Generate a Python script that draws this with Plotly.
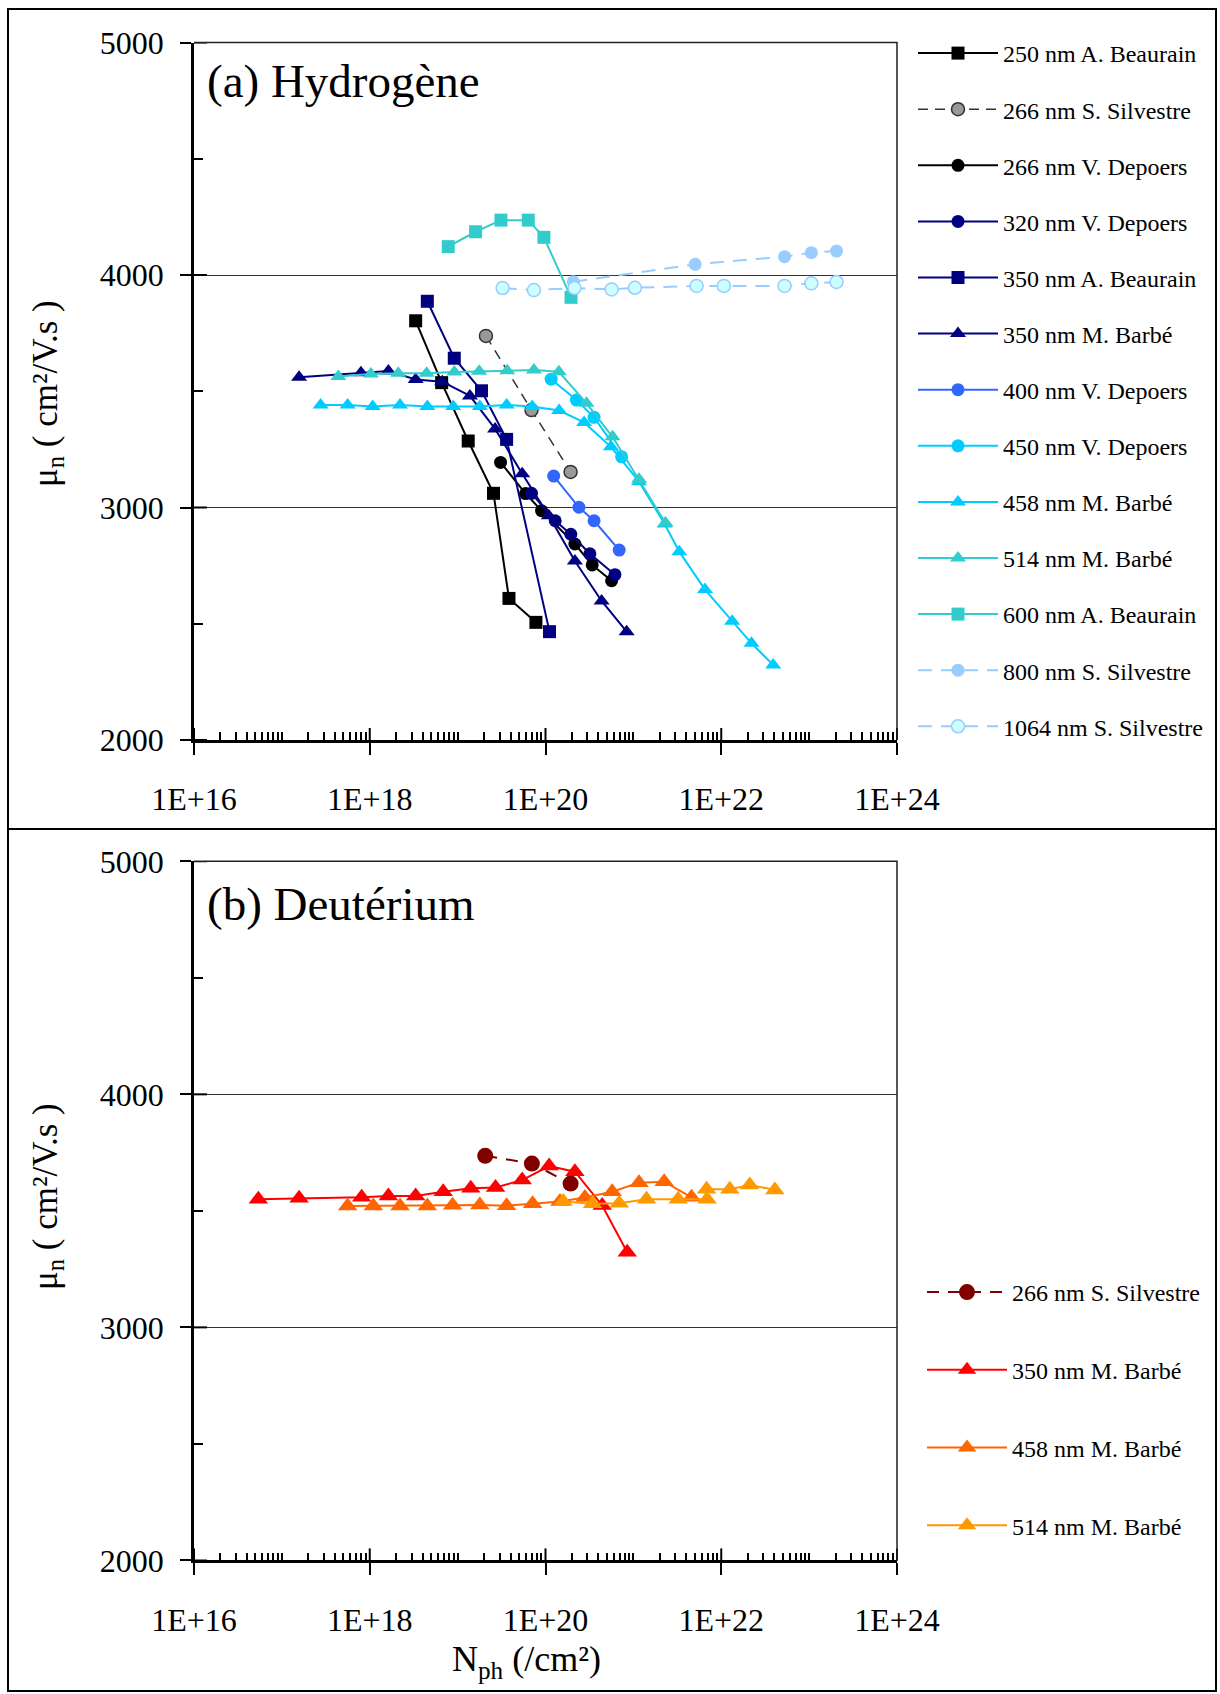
import plotly.graph_objects as go

# ---------------- data: photon fluence N_ph (/cm2) vs electron mobility (cm2/V.s) -------------
# (a) Hydrogène
h_250_beaurain_x = [3.33e18, 6.58e18, 1.32e19, 2.56e19, 3.84e19, 7.78e19]
h_250_beaurain_y = [3803, 3537, 3286, 3061, 2609, 2506]

h_266_silvestre_x = [2.10e19, 6.93e19, 1.93e20]
h_266_silvestre_y = [3738, 3419, 3153]

h_266_depoers_x = [3.08e19, 5.93e19, 9.02e19, 2.16e20, 3.40e20, 5.65e20]
h_266_depoers_y = [3194, 3060, 2986, 2843, 2753, 2685]

h_320_depoers_x = [6.93e19, 1.29e20, 1.94e20, 3.20e20, 6.17e20]
h_320_depoers_y = [3061, 2943, 2885, 2801, 2711]

h_350_beaurain_x = [4.52e18, 9.16e18, 1.87e19, 3.61e19, 1.11e20]
h_350_beaurain_y = [3887, 3642, 3502, 3293, 2466]

h_350_barbe_x = [1.57e17, 7.94e17, 1.63e18, 3.33e18, 6.68e18, 1.38e19,
                 2.67e19, 5.43e19, 1.09e20, 2.16e20, 4.35e20, 8.38e20]
h_350_barbe_y = [3560, 3580, 3587, 3551, 3541, 3480, 3338, 3145, 2965, 2770, 2598, 2466]

h_400_depoers_x = [1.24e20, 2.40e20, 3.57e20, 6.90e20]
h_400_depoers_y = [3135, 3001, 2943, 2817]

h_450_depoers_x = [1.16e20, 2.25e20, 3.57e20, 7.35e20]
h_450_depoers_y = [3552, 3462, 3388, 3218]

h_458_barbe_x = [2.76e17, 5.60e17, 1.08e18, 2.21e18, 4.52e18, 8.91e18, 1.79e19, 3.61e19,
                 7.06e19, 1.43e20, 2.75e20, 5.55e20, 1.16e21, 2.27e21, 3.33e21, 6.53e21,
                 1.33e22, 2.21e22, 3.90e22]
h_458_barbe_y = [3441, 3441, 3434, 3441, 3434, 3434, 3434, 3441, 3434, 3417, 3366, 3261,
                 3111, 2929, 2810, 2647, 2511, 2416, 2323]

h_514_barbe_x = [4.39e17, 1.03e18, 2.11e18, 4.44e18, 9.16e18, 1.76e19, 3.67e19, 7.38e19,
                 1.42e20, 2.93e20, 5.79e20, 1.16e21, 2.32e21]
h_514_barbe_y = [3563, 3574, 3577, 3577, 3583, 3586, 3588, 3591, 3584, 3448, 3304, 3121, 2933]

h_600_beaurain_x = [7.82e18, 1.60e19, 3.11e19, 6.37e19, 9.59e19, 1.95e20]
h_600_beaurain_y = [4122, 4186, 4236, 4236, 4162, 3904]

h_800_silvestre_x = [2.07e20, 5.05e21, 5.25e22, 1.06e23, 2.05e23]
h_800_silvestre_y = [3971, 4046, 4079, 4096, 4103]

h_1064_silvestre_x = [3.25e19, 7.38e19, 2.14e20, 5.65e20, 1.04e21, 5.24e21, 1.07e22,
                      5.25e22, 1.06e23, 2.05e23]
h_1064_silvestre_y = [3944, 3935, 3944, 3938, 3945, 3953, 3953, 3953, 3964, 3970]

# (b) Deutérium
d_266_silvestre_x = [2.06e19, 7.00e19, 1.93e20]
d_266_silvestre_y = [3736, 3703, 3617]

d_350_barbe_x = [5.40e16, 1.57e17, 8.09e17, 1.63e18, 3.33e18, 6.85e18, 1.41e19,
                 2.70e19, 5.43e19, 1.10e20, 2.16e20, 4.42e20, 8.51e20]
d_350_barbe_y = [3550, 3554, 3558, 3564, 3564, 3582, 3597, 3600, 3632, 3692, 3668, 3523, 3322]

d_458_barbe_x = [5.60e17, 1.10e18, 2.21e18, 4.52e18, 8.77e18, 1.79e19, 3.61e19,
                 7.13e19, 1.46e20, 2.81e20, 5.74e20, 1.16e21, 2.24e21, 4.59e21]
d_458_barbe_y = [3521, 3521, 3521, 3521, 3524, 3525, 3522, 3530, 3540, 3557, 3582,
                 3621, 3625, 3558]

d_514_barbe_x = [1.59e20, 3.43e20, 6.90e20, 1.41e21, 3.23e21, 6.90e21, 6.81e21,
                 1.25e22, 2.11e22, 4.07e22]
d_514_barbe_y = [3540, 3530, 3533, 3550, 3550, 3550, 3593, 3593, 3611, 3590]

# axis ticks
x_major = [1e16, 1e18, 1e20, 1e22, 1e24]
x_major_text = ["1E+16", "1E+18", "1E+20", "1E+22", "1E+24"]
y_major = [2000, 3000, 4000, 5000]
y_major_text = ["2000", "3000", "4000", "5000"]
y_minor = [2500, 3500, 4500]
x_minor = [m * 10.0 ** e for e in range(16, 24) for m in range(1, 10)
           if not (m == 1 and e % 2 == 0)]

# ---------------- page geometry (pixels) ----------------
W, H = 1220, 1694
X_LEFT, X_RIGHT = 194, 897
TOP_PLOT = (42.5, 740.0)     # pixel rows of 5000 and 2000
BOT_PLOT = (861.3, 1560.4)
FONT = "Liberation Serif"
TICK_SIZE = 32


def py(v):
    return 1 - v / H


fig = go.Figure()


def add_series(x, y, name, color, symbol, size, axis, legend, dash="solid",
               fill=None, mline=None, lw=2.0):
    fig.add_trace(go.Scatter(
        x=x, y=y, name=name, mode="lines+markers",
        xaxis=axis[0], yaxis=axis[1], legend=legend, legendgroup=name,
        line=dict(color=color, width=lw, dash=dash),
        marker=dict(symbol=symbol, size=size, color=fill or color,
                    line=dict(color=mline or (fill or color), width=1.5 if mline else 0)),
        cliponaxis=False,
    ))


TOP = ("x", "y")
BOT = ("x2", "y2")
navy = "#000080"
add_series(h_250_beaurain_x, h_250_beaurain_y, "250 nm A. Beaurain", "black", "square", 13, TOP, "legend")
add_series(h_266_silvestre_x, h_266_silvestre_y, "266 nm S. Silvestre", "#333333", "circle", 13, TOP,
           "legend", dash="10px,7px", fill="#999999", mline="#333333", lw=1.5)
add_series(h_266_depoers_x, h_266_depoers_y, "266 nm V. Depoers", "black", "circle", 13, TOP, "legend")
add_series(h_320_depoers_x, h_320_depoers_y, "320 nm V. Depoers", navy, "circle", 13, TOP, "legend")
add_series(h_350_beaurain_x, h_350_beaurain_y, "350 nm A. Beaurain", navy, "square", 13, TOP, "legend")
add_series(h_350_barbe_x, h_350_barbe_y, "350 nm M. Barbé", navy, "triangle-up", 14, TOP, "legend")
add_series(h_400_depoers_x, h_400_depoers_y, "400 nm V. Depoers", "#3366FF", "circle", 13, TOP, "legend")
add_series(h_450_depoers_x, h_450_depoers_y, "450 nm V. Depoers", "#00CCFF", "circle", 13, TOP, "legend")
add_series(h_458_barbe_x, h_458_barbe_y, "458 nm M. Barbé", "#00CCFF", "triangle-up", 14, TOP, "legend")
add_series(h_514_barbe_x, h_514_barbe_y, "514 nm M. Barbé", "#33CCCC", "triangle-up", 14, TOP, "legend")
add_series(h_600_beaurain_x, h_600_beaurain_y, "600 nm A. Beaurain", "#33CCCC", "square", 13, TOP, "legend")
add_series(h_800_silvestre_x, h_800_silvestre_y, "800 nm S. Silvestre", "#99CCFF", "circle", 13, TOP,
           "legend", dash="14px,9px")
add_series(h_1064_silvestre_x, h_1064_silvestre_y, "1064 nm S. Silvestre", "#99CCFF", "circle", 13, TOP,
           "legend", dash="14px,9px", fill="#CCFFFF", mline="#99CCFF")

add_series(d_266_silvestre_x, d_266_silvestre_y, "266 nm S. Silvestre", "#800000", "circle", 16, BOT,
           "legend2", dash="12px,9px")
add_series(d_350_barbe_x, d_350_barbe_y, "350 nm M. Barbé", "#FF0000", "triangle-up", 17, BOT, "legend2")
add_series(d_458_barbe_x, d_458_barbe_y, "458 nm M. Barbé", "#FF6600", "triangle-up", 17, BOT, "legend2")
add_series(d_514_barbe_x, d_514_barbe_y, "514 nm M. Barbé", "#FF9900", "triangle-up", 17, BOT, "legend2")

# ---------------- axes ----------------
x_dom = [X_LEFT / W, X_RIGHT / W]


def xaxis_cfg(anchor):
    return dict(
        type="log", range=[16, 24], domain=x_dom, anchor=anchor, automargin=False,
        tickmode="array", tickvals=x_major, ticktext=x_major_text,
        ticks="outside", ticklen=12, tickwidth=2, tickcolor="black",
        showline=True, linewidth=2.5, linecolor="black", mirror=False,
        showgrid=False, zeroline=False, ticklabelstandoff=17,
        tickfont=dict(family=FONT, size=TICK_SIZE, color="black"),
        minor=dict(tickmode="array", tickvals=x_minor, ticks="inside", ticklen=8,
                   tickwidth=1.5, tickcolor="black", showgrid=False),
    )


def yaxis_cfg(anchor, top_bot):
    return dict(
        range=[2000, 5000], domain=[py(top_bot[1]), py(top_bot[0])], anchor=anchor,
        automargin=False,
        tickmode="array", tickvals=y_major, ticktext=y_major_text,
        ticks="outside", ticklen=11, tickwidth=2, tickcolor="black",
        showline=True, linewidth=2.5, linecolor="black",
        showgrid=True, gridcolor="#333333", gridwidth=1, zeroline=False,
        ticklabelstandoff=10,
        tickfont=dict(family=FONT, size=TICK_SIZE, color="black"),
        minor=dict(tickmode="array", tickvals=y_minor, ticks="inside", ticklen=9,
                   tickwidth=2, tickcolor="black", showgrid=False),
    )


fig.update_layout(
    template="none",
    width=W, height=H, margin=dict(l=0, r=0, t=0, b=0, pad=0, autoexpand=False),
    paper_bgcolor="white", plot_bgcolor="white",
    font=dict(family=FONT, color="black"),
    xaxis=xaxis_cfg("y"), yaxis=yaxis_cfg("x", TOP_PLOT),
    xaxis2=xaxis_cfg("y2"), yaxis2=yaxis_cfg("x2", BOT_PLOT),
    legend=dict(x=913 / W, y=py(31), xanchor="left", yanchor="top",
                font=dict(family=FONT, size=24, color="black"),
                tracegroupgap=21.9, itemwidth=80, bgcolor="rgba(0,0,0,0)", borderwidth=0),
    legend2=dict(x=922 / W, y=py(1270), xanchor="left", yanchor="top",
                 font=dict(family=FONT, size=24, color="black"),
                 tracegroupgap=43.5, itemwidth=80, bgcolor="rgba(0,0,0,0)", borderwidth=0),
)

shapes = []
for xr, yr in (("x", "y"), ("x2", "y2")):
    # inner half of the crossing major ticks
    for k in range(len(x_major)):
        f = k / (len(x_major) - 1)
        shapes.append(dict(type="line", xref=xr + " domain", yref=yr + " domain",
                           x0=f, x1=f, ysizemode="pixel", yanchor=0, y0=0, y1=12,
                           line=dict(color="black", width=2)))
    for v in y_major:
        shapes.append(dict(type="line", xref=xr + " domain", yref=yr,
                           xsizemode="pixel", xanchor=0, x0=0, x1=13, y0=v, y1=v,
                           line=dict(color="black", width=2)))
    # thin top and right frame of the plot area
    shapes.append(dict(type="path", xref=xr + " domain", yref=yr + " domain",
                       path="M 0 1 L 1 1 L 1 0", line=dict(color="#222222", width=1.5)))

# outer page frame and divider between the two panels
shapes.append(dict(type="rect", xref="paper", yref="paper", x0=8 / W, x1=1216 / W,
                   y0=py(1691), y1=py(9), line=dict(color="black", width=2)))
shapes.append(dict(type="line", xref="paper", yref="paper", x0=8 / W, x1=1216 / W,
                   y0=py(829), y1=py(829), line=dict(color="black", width=2)))
fig.update_layout(shapes=shapes)

annotations = [
    dict(text="(a) Hydrogène", x=205 / W, y=py(81), xanchor="left", yanchor="middle",
         font=dict(family=FONT, size=47, color="black")),
    dict(text="(b) Deutérium", x=205 / W, y=py(904), xanchor="left", yanchor="middle",
         font=dict(family=FONT, size=47, color="black")),
    dict(text="μ<sub>n</sub> ( cm²/V.s )", x=47 / W, y=py(394), textangle=-90,
         xanchor="center", yanchor="middle", font=dict(family=FONT, size=35, color="black")),
    dict(text="μ<sub>n</sub> ( cm²/V.s )", x=47 / W, y=py(1197), textangle=-90,
         xanchor="center", yanchor="middle", font=dict(family=FONT, size=35, color="black")),
    dict(text="N<sub>ph</sub> (/cm²)", x=526 / W, y=py(1661), xanchor="center",
         yanchor="middle", font=dict(family=FONT, size=36, color="black")),
]
for a in annotations:
    a.update(xref="paper", yref="paper", showarrow=False)
fig.update_layout(annotations=annotations)

fig.write_html("out.html")
